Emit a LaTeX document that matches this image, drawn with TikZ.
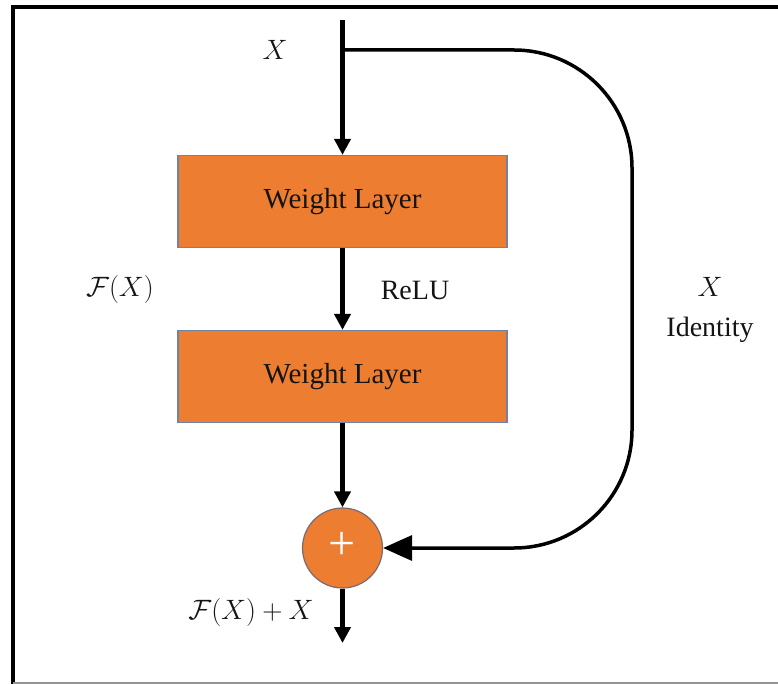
\documentclass[tikz,border=0pt]{standalone}
\usepackage{fontspec}
\setmainfont{Liberation Serif}
\usetikzlibrary{arrows.meta}
\definecolor{orng}{HTML}{ED7D31}
\definecolor{bordblue}{HTML}{7083A6}
\definecolor{circbord}{HTML}{7A6A70}
\newcommand{\bigmath}[1]{\scalebox{1.125}{\fontsize{24.88}{30}\selectfont$#1$}}
\begin{document}
\begin{tikzpicture}[x=1pt,y=-1pt,
  layer/.style={rectangle, fill=orng, draw=bordblue, line width=1.2pt,
    minimum width=329pt, minimum height=92pt, inner sep=0pt,
    font=\fontsize{29}{34}\selectfont, text=black!92},
  flow/.style={line width=4.5pt, -{Triangle[length=16pt,width=16pt]}},
  lbl/.style={font=\fontsize{28}{40}\selectfont, inner sep=0pt, text=black!92}]
\useasboundingbox (0,0) rectangle (778,684);
% frame
\draw[line width=4pt] (12.5,684) -- (12.5,7) -- (778,7);
\draw[gray!85, line width=2pt] (12.5,683) -- (778,683);
% nodes
\node[layer] (w1) at (342.5,201.5) {Weight Layer};
\node[layer] (w2) at (342.5,376.5) {Weight Layer};
\node[circle, fill=orng, draw=circbord, line width=1.2pt, minimum size=80pt, inner sep=0pt] (sum) at (342.5,548) {};
\node[text=white, font=\fontsize{48}{48}\selectfont, inner sep=0pt] (plus) at (342.5,546) {+};
% labels
\node[lbl] (xin) at (275,50) {\bigmath{X}};
\node[lbl] (fx) at (120,290) {\bigmath{\mathcal{F}(X)}};
\node[lbl] (relu) at (415,290) {ReLU};
\node[lbl, align=center] (idl) at (710,310) {\bigmath{X}\\Identity};
\node[lbl] (fxx) at (251,612) {\bigmath{\mathcal{F}(X)+X}};
% connectors
\coordinate (top) at (342.5,20);
\coordinate (split) at (342.5,50);
\coordinate (out) at (342.5,643);
\coordinate (corner) at (632,548);
\draw[flow] (top) -- (w1.north);
\draw[flow] (w1.south) -- (w2.north);
\draw[flow] (w2.south) -- (sum.north);
\draw[flow] (sum.south) -- (out);
\draw[line width=3.5pt, rounded corners=118pt, -{Triangle[length=29pt,width=25pt]}]
  (split) -| (corner) -- (sum.east);
\end{tikzpicture}
\end{document}
